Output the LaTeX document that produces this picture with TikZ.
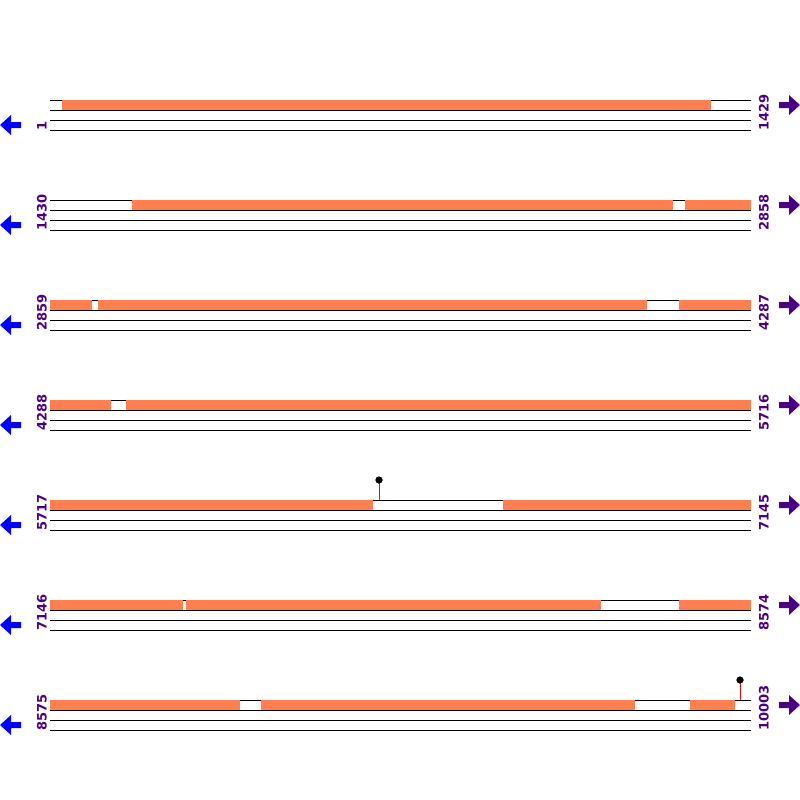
\documentclass[tikz,border=0pt]{standalone}
\usepackage{fontspec}
\setmainfont{DejaVu Sans}
\definecolor{coral}{RGB}{255,127,80}
\definecolor{indigo}{RGB}{75,0,130}
\tikzset{
  track/.style={line width=1pt},
  feat/.style={fill=coral},
  poslabel/.style={rotate=90,anchor=west,inner sep=0pt,text=indigo,font=\bfseries\fontsize{13}{13}\selectfont},
  stem/.style={red,line width=1pt},
  ball/.style={circle,fill=black,inner sep=0pt,minimum size=7pt}
}
\begin{document}
\begin{tikzpicture}[x=1pt,y=-1pt]
    \useasboundingbox (0,0) rectangle (800,800);

    % Dibujar las siete filas: lineas, segmentos y posiciones
    \foreach \fila/\ini/\fin/\segs in {
        1/1/1429/{62/711},
        2/1430/2858/{132/673,685/751},
        3/2859/4287/{50/92,98/647,679/751},
        4/4288/5716/{50/111,126/751},
        5/5717/7145/{50/373,503/751},
        6/7146/8574/{50/183,186/601,679/751},
        7/8575/10003/{50/240,261/635,690/735}} {
      \pgfmathsetmacro{\y}{100*\fila}
      % lineas
      \foreach \d in {0,10,20,30}
        \draw[track] (50,\y+\d) -- (751,\y+\d);
      % segmentos
      \foreach \a/\b in \segs
        \fill[feat] (\a,\y) rectangle (\b,\y+10);
      % posiciones
      \node[poslabel] (ini\fila) at (42,\y+31) {\ini};
      \node[poslabel] (fin\fila) at (764,\y+31) {\fin};
      % flechas
      \fill[blue] (0,\y+25) -- (11,\y+15) -- (11,\y+22) -- (21,\y+22)
        -- (21,\y+28) -- (11,\y+28) -- (11,\y+35) -- cycle;
      \fill[indigo] (800,\y+5) -- (789,\y-5) -- (789,\y+2) -- (779,\y+2)
        -- (779,\y+8) -- (789,\y+8) -- (789,\y+15) -- cycle;
    }

    % Marcas
    \coordinate (pieA) at (379,500);
    \node[ball] (bolaA) at (379,480) {};
    \draw[stem] (pieA) -- (bolaA.center);
    \fill (bolaA) circle (3.5);
    \coordinate (pieB) at (740,700);
    \node[ball] (bolaB) at (740,680) {};
    \draw[stem] (pieB) -- (bolaB.center);
    \fill (bolaB) circle (3.5);
\end{tikzpicture}
\end{document}
